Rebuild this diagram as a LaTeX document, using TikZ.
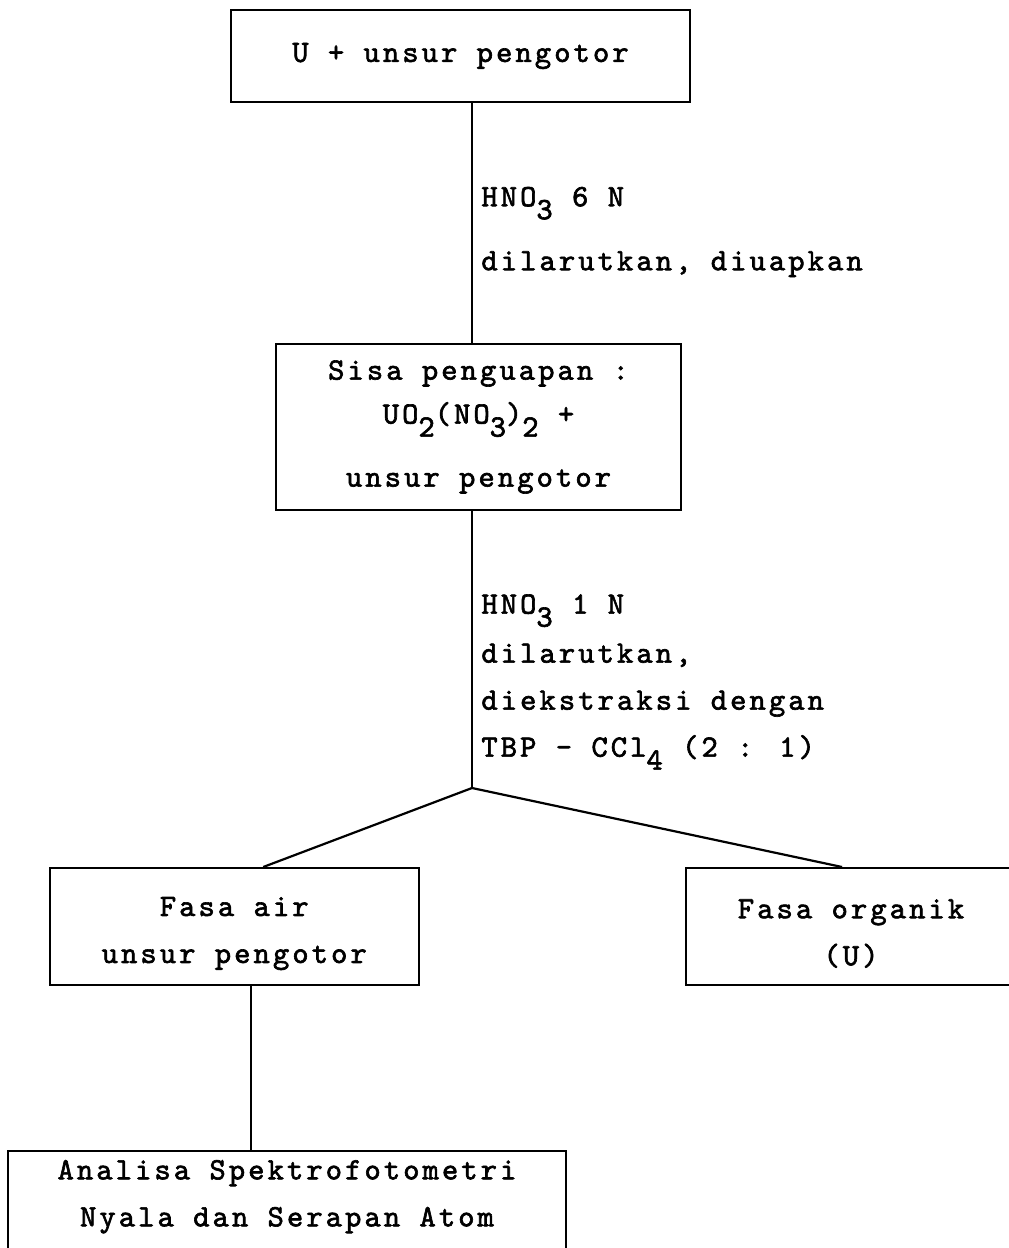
\documentclass[tikz,border=0pt]{standalone}
\usepackage{fontspec}
\newfontfamily\tw[FakeBold=2,LetterSpace=10]{lmmono10-regular.otf}
\usetikzlibrary{calc}
\newcommand\sbx[1]{\raisebox{-6.5pt}{#1}}
\newcommand\twf{\tw\fontsize{15.5}{23.5}\selectfont}
\tikzset{
  box/.style={draw=black, line width=1pt, rectangle, inner sep=0pt, align=center, font=\twf},
  lbl/.style={inner sep=0pt, align=left, anchor=west, font=\twf},
  conn/.style={draw=black, line width=1.1pt}
}
\begin{document}
\begin{tikzpicture}[x=0.5pt,y=-0.5pt]
\useasboundingbox[fill=white] (0,0) rectangle (1008,1248);
% boxes
\node[box, minimum width=229.5pt, minimum height=46pt] (b1) at (460.5,56) {U + unsur pengotor};
\node[box, minimum width=202.5pt, minimum height=83pt] (b2) at (478.5,427)
  {Sisa penguapan :\\[-1.5pt]UO\sbx{2}(NO\sbx{3})\sbx{2} +\\[8pt]unsur pengotor};
\node[box, minimum width=184.75pt, minimum height=58.5pt] (b3) at (234.25,926.5)
  {\rule{0pt}{16.5pt}Fasa air\\unsur pengotor};
\node[box, minimum width=165pt, minimum height=58.5pt] (b4) at (851,926.5)
  {\rule{0pt}{16.5pt}Fasa organik\\(U)};
\node[box, minimum width=279pt, anchor=north, inner ysep=4.5pt] (b5) at (287,1150)
  {Analisa Spektrofotometri\\Nyala dan Serapan Atom\rule[-40pt]{0pt}{0pt}};
% junction and connection points
\coordinate (j) at (472,788);
\coordinate (l3) at ($(b3.north west)!0.578!(b3.north east)$);
\coordinate (l4) at ($(b4.north west)!0.473!(b4.north east)$);
\coordinate (d3) at ($(b3.south west)!0.545!(b3.south east)$);
% connectors
\draw[conn] (b1.south -| j) -- (b2.north -| j);
\draw[conn] (b2.south -| j) -- (j);
\draw[conn] (j) -- (l3);
\draw[conn] (j) -- (l4);
\draw[conn] (d3) -- (d3 |- b5.north);
% labels
\node[lbl] (t1) at (481,232) {HNO\sbx{3} 6 N\\[8.5pt]dilarutkan, diuapkan};
\node[lbl] (t2) at (481,682) {HNO\sbx{3} 1 N\\[1pt]dilarutkan,\\diekstraksi dengan\\TBP - CCl\sbx{4} (2 : 1)};
\end{tikzpicture}
\end{document}
